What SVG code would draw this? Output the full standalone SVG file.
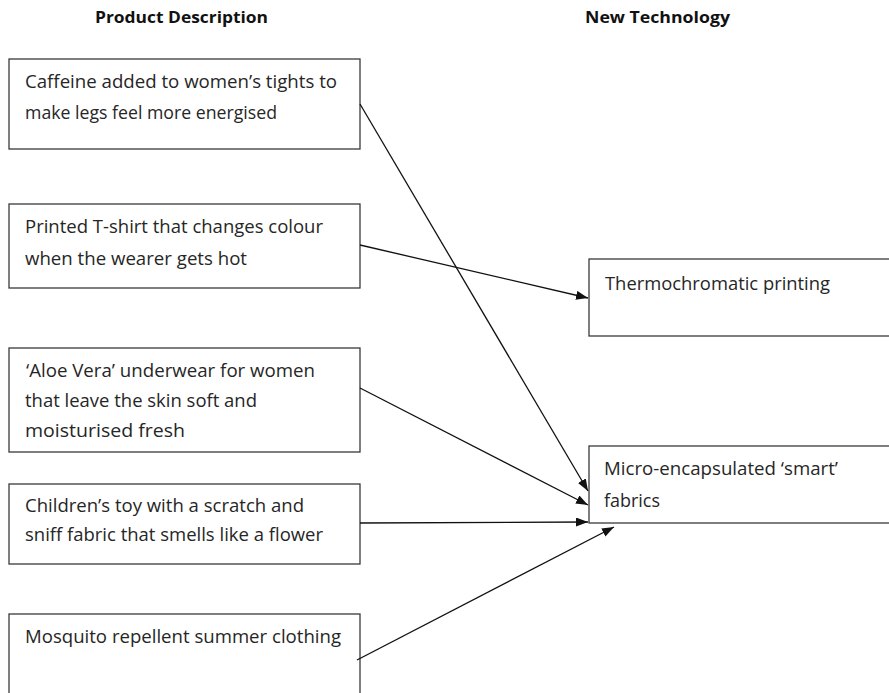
<svg xmlns="http://www.w3.org/2000/svg" width="889" height="693" viewBox="0 0 889 693">
<style>
  .box { fill: #ffffff; stroke: #3a3a3a; stroke-width: 1.3; }
  .t { font-family: "Open Sans", "Liberation Sans", sans-serif; font-size: 18.5px; fill: #262626; }
  .h { font-family: "Open Sans", "Liberation Sans", sans-serif; font-size: 16.5px; font-weight: bold; fill: #111111; }
  .conn { stroke: #111111; stroke-width: 1.3; fill: none; marker-end: url(#arrow); }
</style>
<defs>
  <marker id="arrow" markerUnits="userSpaceOnUse" markerWidth="13" markerHeight="10" refX="12" refY="4.5" orient="auto">
    <path d="M0,0 L12,4.5 L0,9 z" fill="#111111"/>
  </marker>
</defs>
<rect width="889" height="693" fill="#ffffff"/>
<g id="headers">
  <text class="h" x="95" y="23" textLength="173" lengthAdjust="spacingAndGlyphs">Product Description</text>
  <text class="h" x="585" y="23" textLength="145" lengthAdjust="spacingAndGlyphs">New Technology</text>
</g>
<g id="node-caffeine">
  <rect class="box" x="9" y="59" width="351" height="90"/>
  <text class="t" x="25" y="88" textLength="312" lengthAdjust="spacingAndGlyphs">Caffeine added to women’s tights to</text>
  <text class="t" x="25" y="119" textLength="252" lengthAdjust="spacingAndGlyphs">make legs feel more energised</text>
</g>
<g id="node-tshirt">
  <rect class="box" x="9" y="204" width="351" height="84"/>
  <text class="t" x="25" y="233" textLength="298" lengthAdjust="spacingAndGlyphs">Printed T-shirt that changes colour</text>
  <text class="t" x="25" y="265" textLength="222" lengthAdjust="spacingAndGlyphs">when the wearer gets hot</text>
</g>
<g id="node-aloe">
  <rect class="box" x="9" y="348" width="351" height="104"/>
  <text class="t" x="26" y="377" textLength="289" lengthAdjust="spacingAndGlyphs">‘Aloe Vera’ underwear for women</text>
  <text class="t" x="25" y="407" textLength="232" lengthAdjust="spacingAndGlyphs">that leave the skin soft and</text>
  <text class="t" x="25" y="437" textLength="160" lengthAdjust="spacingAndGlyphs">moisturised fresh</text>
</g>
<g id="node-toy">
  <rect class="box" x="9" y="484" width="351" height="80"/>
  <text class="t" x="25" y="512" textLength="279" lengthAdjust="spacingAndGlyphs">Children’s toy with a scratch and</text>
  <text class="t" x="25" y="541" textLength="298" lengthAdjust="spacingAndGlyphs">sniff fabric that smells like a flower</text>
</g>
<g id="node-mosquito">
  <rect class="box" x="9" y="614" width="351" height="90"/>
  <text class="t" x="25" y="643" textLength="316" lengthAdjust="spacingAndGlyphs">Mosquito repellent summer clothing</text>
</g>
<g id="node-thermo">
  <rect class="box" x="589" y="259" width="310" height="77"/>
  <text class="t" x="605" y="290" textLength="225" lengthAdjust="spacingAndGlyphs">Thermochromatic printing</text>
</g>
<g id="node-micro">
  <rect class="box" x="589" y="446" width="310" height="77"/>
  <text class="t" x="604" y="475" textLength="234" lengthAdjust="spacingAndGlyphs">Micro-encapsulated ‘smart’</text>
  <text class="t" x="604" y="507" textLength="56" lengthAdjust="spacingAndGlyphs">fabrics</text>
</g>
<g id="connectors">
  <line class="conn" x1="360" y1="104" x2="588" y2="491"/>
  <line class="conn" x1="360" y1="245" x2="588" y2="298"/>
  <line class="conn" x1="360" y1="388" x2="588" y2="505"/>
  <line class="conn" x1="360" y1="523" x2="588" y2="522"/>
  <line class="conn" x1="357" y1="660" x2="614" y2="527"/>
</g>
</svg>
